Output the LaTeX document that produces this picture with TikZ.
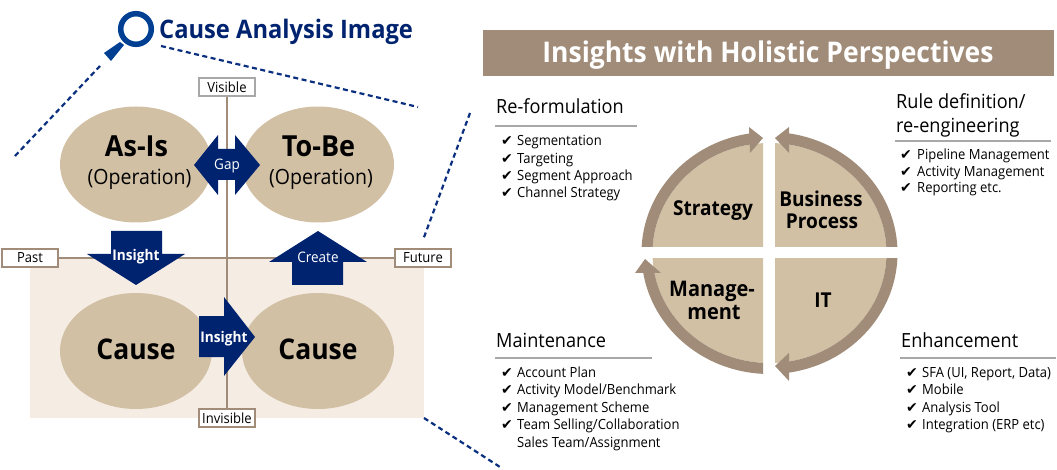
\documentclass[tikz,border=0pt]{standalone}
\usepackage{fontspec}
\setmainfont[FakeStretch=0.93]{Open Sans}
\newfontfamily\ckfont{DejaVu Sans}
\usetikzlibrary{shapes.geometric}
\definecolor{tan}{HTML}{D2C0A5}
\definecolor{brownline}{HTML}{A08C78}
\definecolor{pinkbg}{HTML}{F5ECE4}
\definecolor{navy}{HTML}{00236F}
\definecolor{lensblue}{HTML}{003F92}
\definecolor{dashblue}{HTML}{0A2F7F}
\definecolor{rulegray}{HTML}{A8A8A8}
\newcommand{\fsz}[1]{\fontsize{#1}{#1}\selectfont}
\newcommand{\ckitem}[5]{% name, check x, text x, baseline y, text
  \node[checktxt] (#1c) at (#2,#4) {✔};
  \node[itemtxt] (#1) at (#3,#4) {#5};}
\tikzset{
  oval/.style={ellipse,fill=tan,minimum width=152pt,minimum height=116pt,inner sep=0pt},
  tagbox/.style={draw=brownline,fill=white,line width=2pt,minimum width=56pt,minimum height=18pt,inner sep=0pt,font=\fsz{14}},
  axisline/.style={draw=brownline,line width=2pt},
  bigbold/.style={anchor=base,inner sep=0pt,font=\fsz{29}\bfseries},
  subop/.style={anchor=base,inner sep=0pt,font=\fsz{21}},
  wlabel/.style={text=white,anchor=base,inner sep=0pt},
  quadlabel/.style={anchor=base,inner sep=0pt,font=\fsz{20.5}\bfseries},
  headtxt/.style={anchor=base west,inner sep=0pt,font=\fsz{19.5}},
  itemtxt/.style={anchor=base west,inner sep=0pt,font=\fsz{14}},
  checktxt/.style={anchor=base west,inner sep=0pt,font=\ckfont\fsz{14}},
  headrule/.style={draw=rulegray,line width=2pt},
  dashline/.style={draw=dashblue,line width=2.2pt,dash pattern=on 5pt off 3.5pt},
  bandfill/.style={fill=brownline},
}
\begin{document}
\begin{tikzpicture}[x=1pt,y=-1pt]
\useasboundingbox (0,0) rectangle (1057,470);
% lens dashes
\coordinate (d1a) at (15,156); \coordinate (d1b) at (100,66);
\coordinate (d2a) at (161,46); \coordinate (d2b) at (418,107);
\coordinate (d3a) at (470,113); \coordinate (d3b) at (423,240);
\coordinate (d4a) at (424,418); \coordinate (d4b) at (500,467);
\draw[dashline] (d1a) -- (d1b);
\draw[dashline] (d2a) -- (d2b);
\draw[dashline] (d3a) -- (d3b);
\draw[dashline] (d4a) -- (d4b);
% magnifier
\draw[lensblue,line width=5.5pt] (136,29) circle [radius=15.3];
\fill[lensblue] (104,53) -- (111,61) -- (124,45) -- (120,42) -- cycle;
\node[anchor=base west,inner sep=0pt,text=navy,font=\fsz{25.5}\bfseries] (title) at (159,39) {Cause Analysis Image};
% background
\fill[pinkbg] (30,259) rectangle (424,418);
% axes
\node[tagbox,draw=rulegray] (visible) at (227,87) {Visible};
\node[tagbox] (invisible) at (227,418) {Invisible};
\node[tagbox] (past) at (30,258) {Past};
\node[tagbox] (future) at (423,258) {Future};
\draw[axisline] (visible) -- (invisible);
\draw[axisline] (past) -- (future);
% ovals
\node[oval] (asis) at (136,164.5) {};
\node[oval] (tobe) at (318,164.5) {};
\node[oval] (causeL) at (136,351) {};
\node[oval] (causeR) at (318,351) {};
\node[bigbold] (asisT) at (136.5,157) {As-Is};
\node[subop] (asisS) at (139.5,185) {(Operation)};
\node[bigbold] (tobeT) at (318.5,157) {To-Be};
\node[subop] (tobeS) at (321,185) {(Operation)};
\node[bigbold,font=\fsz{28.5}\bfseries] (causeLT) at (136,359) {Cause};
\node[bigbold,font=\fsz{28.5}\bfseries] (causeRT) at (318,359) {Cause};
% arrows
\fill[navy] (194,165) -- (218,135) -- (218,149) -- (235,149) -- (235,135) -- (260,165) -- (235,195) -- (235,180) -- (218,180) -- (218,195) -- cycle;
\node[wlabel,font=\fsz{14.5}] (gap) at (227,170) {Gap};
\fill[navy] (111,231) -- (162,231) -- (162,254) -- (185,254) -- (136,285) -- (87,254) -- (111,254) -- cycle;
\node[wlabel,font=\fsz{14.7}\bfseries] (ins1) at (136,261) {Insight};
\fill[navy] (318,231) -- (367,262) -- (343,262) -- (343,285) -- (292,285) -- (292,262) -- (269,262) -- cycle;
\node[wlabel,font=\fsz{14.5}] (create) at (318,262) {Create};
\fill[navy] (199,316) -- (224,316) -- (224,297) -- (255,337) -- (224,376) -- (224,357) -- (199,357) -- cycle;
\node[wlabel,font=\fsz{14.7}\bfseries] (ins2) at (224,342) {Insight};
% banner
\node[fill=brownline,minimum width=571pt,minimum height=46pt,inner sep=0pt,anchor=north west] (banner) at (483,30) {};
\node[wlabel,font=\fsz{28.5}\bfseries] (bannerT) at (768,63) {Insights with Holistic Perspectives};
% cycle quadrants
\begin{scope}\clip (600,120) rectangle (763,247);
\fill[tan] (769.5,253) ellipse [x radius=117,y radius=110];
\begin{scope}\clip (600,120) rectangle (751,247);
\fill[even odd rule,bandfill] (769.5,253) ellipse [x radius=128,y radius=121] (769.5,253) ellipse [x radius=117,y radius=110];
\end{scope}\end{scope}
\begin{scope}\clip (775,120) rectangle (920,247);
\fill[tan] (769.5,253) ellipse [x radius=117,y radius=110];
\begin{scope}\clip (787,120) rectangle (920,247);
\fill[even odd rule,bandfill] (769.5,253) ellipse [x radius=128,y radius=121] (769.5,253) ellipse [x radius=117,y radius=110];
\end{scope}\end{scope}
\begin{scope}\clip (775,259) rectangle (920,390);
\fill[tan] (769.5,253) ellipse [x radius=117,y radius=110];
\begin{scope}\clip (787,259) rectangle (920,390);
\fill[even odd rule,bandfill] (769.5,253) ellipse [x radius=128,y radius=121] (769.5,253) ellipse [x radius=117,y radius=110];
\end{scope}\end{scope}
\begin{scope}\clip (600,259) rectangle (763,390);
\fill[tan] (769.5,253) ellipse [x radius=117,y radius=110];
\begin{scope}\clip (600,271) rectangle (763,390);
\fill[even odd rule,bandfill] (769.5,253) ellipse [x radius=128,y radius=121] (769.5,253) ellipse [x radius=117,y radius=110];
\end{scope}\end{scope}
\fill[bandfill] (763,138) -- (749,127) -- (750,153) -- cycle;
\fill[bandfill] (775,138) -- (789,127) -- (789,153) -- cycle;
\fill[bandfill] (775,366) -- (789,353) -- (789,381) -- cycle;
\fill[bandfill] (645,259) -- (635,273) -- (661,273) -- cycle;
\node[quadlabel] (strategy) at (713,216) {Strategy};
\node[quadlabel] (business) at (821,207) {Business};
\node[quadlabel] (process) at (822,229) {Process};
\node[quadlabel,font=\fsz{21.5}\bfseries] (manage) at (712,297) {Manage-};
\node[quadlabel,font=\fsz{21.5}\bfseries] (ment) at (714,319) {ment};
\node[quadlabel] (it) at (823,308) {IT};
% text blocks
\node[headtxt] (h1) at (496,114) {Re-formulation};
\coordinate (r1a) at (495,126); \coordinate (r1b) at (637,126);
\draw[headrule] (r1a) -- (r1b);
\ckitem{a1}{501}{517}{146}{Segmentation}
\ckitem{a2}{501}{517}{163.3}{Targeting}
\ckitem{a3}{501}{517}{180.5}{Segment Approach}
\ckitem{a4}{501}{517}{197.5}{Channel Strategy}
\node[headtxt] (h2a) at (896,109) {Rule definition/};
\node[headtxt] (h2b) at (896,133) {re-engineering};
\coordinate (r2a) at (895,141); \coordinate (r2b) at (1051,141);
\draw[headrule] (r2a) -- (r2b);
\ckitem{b1}{900}{917}{160}{Pipeline Management}
\ckitem{b2}{900}{917}{177}{Activity Management}
\ckitem{b3}{900}{917}{193}{Reporting etc.}
\node[headtxt] (h3) at (496,347) {Maintenance};
\coordinate (r3a) at (495,357.5); \coordinate (r3b) at (652,357.5);
\draw[headrule] (r3a) -- (r3b);
\ckitem{c1}{501}{517}{377}{Account Plan}
\ckitem{c2}{501}{517}{394.5}{Activity Model/Benchmark}
\ckitem{c3}{501}{517}{412}{Management Scheme}
\ckitem{c4}{501}{517}{429}{Team Selling/Collaboration}
\node[itemtxt] (c5) at (517,447) {Sales Team/Assignment};
\node[headtxt] (h4) at (901,347) {Enhancement};
\coordinate (r4a) at (900,357.5); \coordinate (r4b) at (1056,357.5);
\draw[headrule] (r4a) -- (r4b);
\ckitem{e1}{906}{922}{377}{SFA (UI, Report, Data)}
\ckitem{e2}{906}{922}{394.5}{Mobile}
\ckitem{e3}{906}{922}{412}{Analysis Tool}
\ckitem{e4}{906}{922}{429}{Integration (ERP etc)}
\end{tikzpicture}
\end{document}
